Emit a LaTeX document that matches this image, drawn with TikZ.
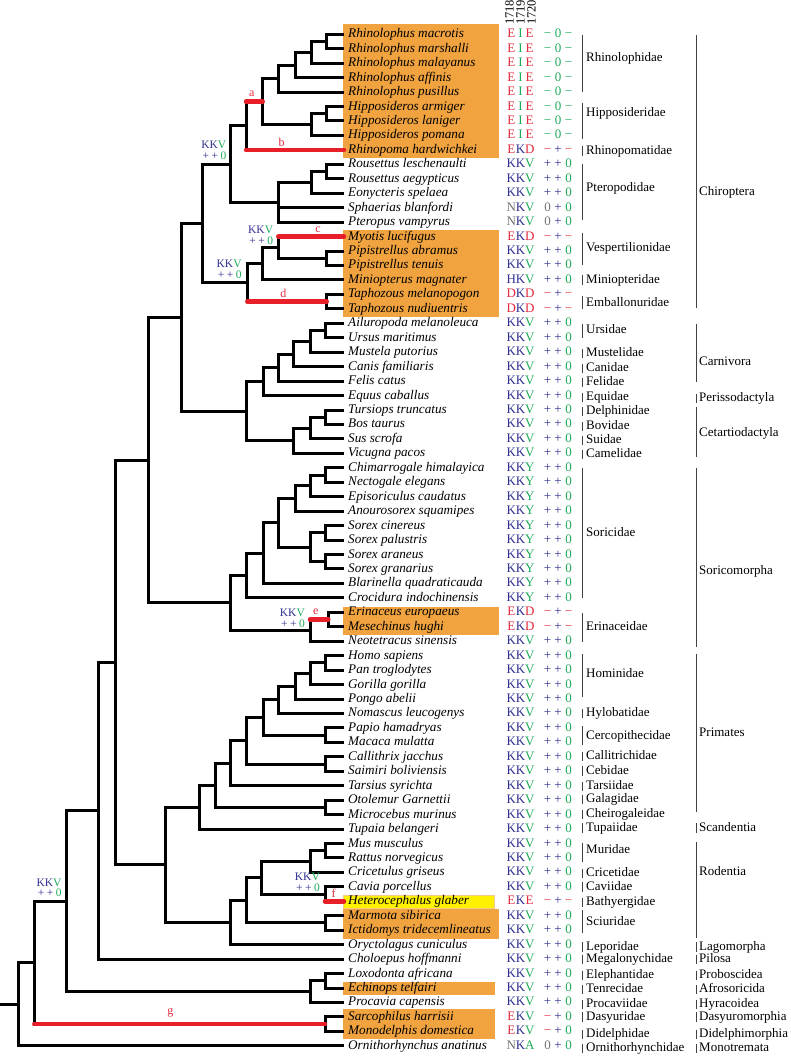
\documentclass[tikz,border=0pt]{standalone}
\usepackage{fontspec}
\setmainfont{Liberation Serif}
\usetikzlibrary{calc}
\definecolor{cred}{RGB}{228,42,62}
\definecolor{cblue}{RGB}{48,48,145}
\definecolor{cgreen}{RGB}{30,170,90}
\definecolor{cgray}{RGB}{115,115,115}
\definecolor{orbox}{RGB}{241,163,64}
\definecolor{yebox}{RGB}{255,242,0}
\definecolor{redbar}{RGB}{232,30,40}
\newcommand\cRe[1]{\textcolor{cred}{#1}}
\newcommand\cBl[1]{\textcolor{cblue}{#1}}
\newcommand\cGr[1]{\textcolor{cgreen}{#1}}
\newcommand\cGy[1]{\textcolor{cgray}{#1}}
\tikzset{
 br/.style={line width=3pt, line join=miter, black},
 rb/.style={line width=4.5pt, line cap=round, redbar},
 spn/.style={anchor=west, inner sep=0pt, text height=9pt, text depth=2pt, font=\fontsize{13.2}{14}\selectfont\itshape},
 cd/.style={anchor=center, inner sep=0pt, text height=9pt, text depth=2pt, font=\fontsize{13}{14}\selectfont},
 lab/.style={anchor=west, inner sep=0pt, text height=9pt, text depth=2pt, font=\fontsize{13}{14}\selectfont},
 brk/.style={line width=0.8pt, black!75},
 nl/.style={anchor=south east, align=right, inner sep=0pt, font=\fontsize{11.5}{10.5}\selectfont},
 rl/.style={inner sep=0pt, text=cred, font=\fontsize{12}{12}\selectfont},
 hd/.style={rotate=90, anchor=west, inner sep=0pt, font=\fontsize{12.5}{12.5}\selectfont},
}
% codes
\newcommand\typ[7]{%
 \node[cd] (ca#1) at (l#1 -| X1) {#2};
 \node[cd] (cb#1) at (l#1 -| X2) {#3};
 \node[cd] (cc#1) at (l#1 -| X3) {#4};
 \node[cd] (sa#1) at (l#1 -| Y1) {#5};
 \node[cd] (sb#1) at (l#1 -| Y2) {#6};
 \node[cd] (sc#1) at (l#1 -| Y3) {#7};}
\newcommand\codeEIE[1]{\typ{#1}{\cRe{E}}{\cGr{I}}{\cRe{E}}{\cGr{−}}{\cGr{0}}{\cGr{−}}}
\newcommand\codeEKD[1]{\typ{#1}{\cRe{E}}{\cBl{K}}{\cRe{D}}{\cRe{−}}{\cBl{+}}{\cRe{−}}}
\newcommand\codeKKV[1]{\typ{#1}{\cBl{K}}{\cBl{K}}{\cGr{V}}{\cBl{+}}{\cBl{+}}{\cGr{0}}}
\newcommand\codeNKV[1]{\typ{#1}{\cGy{N}}{\cBl{K}}{\cGr{V}}{\cGy{0}}{\cBl{+}}{\cGr{0}}}
\newcommand\codeHKV[1]{\typ{#1}{\cBl{H}}{\cBl{K}}{\cGr{V}}{\cBl{+}}{\cBl{+}}{\cGr{0}}}
\newcommand\codeDKD[1]{\typ{#1}{\cRe{D}}{\cBl{K}}{\cRe{D}}{\cRe{−}}{\cBl{+}}{\cRe{−}}}
\newcommand\codeKKY[1]{\typ{#1}{\cBl{K}}{\cBl{K}}{\cGr{Y}}{\cBl{+}}{\cBl{+}}{\cGr{0}}}
\newcommand\codeEKE[1]{\typ{#1}{\cRe{E}}{\cBl{K}}{\cRe{E}}{\cRe{−}}{\cBl{+}}{\cRe{−}}}
\newcommand\codeEKV[1]{\typ{#1}{\cRe{E}}{\cBl{K}}{\cGr{V}}{\cRe{−}}{\cBl{+}}{\cGr{0}}}
\newcommand\codeNKA[1]{\typ{#1}{\cGy{N}}{\cBl{K}}{\cGr{A}}{\cGy{0}}{\cBl{+}}{\cGr{0}}}
\newcommand\rw[3]{%
 \coordinate (l#1) at (344,{34.3+(#1-1)*14.45});
 \node[spn] (s#1) at ($(l#1)+(4,0)$) {#2};
 \csname code#3\endcsname{#1}}
\newcommand\inode[4]{%
 \path let \p1=(#3), \p2=(#4) in ({#2pt},{0.5*(\y1+\y2)}) coordinate (#1);
 \draw[br] (#3) -| (#1) |- (#4);}
\newcommand\famlab[5]{%
 \node[lab] (#1) at (586,#3) {#2};
 \draw[brk] (582.7,#4) -- (582.7,#5);}
\newcommand\famshort[3]{%
 \node[lab] (#1) at (586,#3) {#2};
 \draw[brk] (582.7,{#3-4.5}) -- (582.7,{#3+5});}
\newcommand\ordlab[5]{%
 \node[lab] (#1) at (699,#3) {#2};
 \draw[brk] (696,#4) -- (696,#5);}
\newcommand\ordshort[3]{%
 \node[lab] (#1) at (699,#3) {#2};
 \draw[brk] (696,{#3-4.5}) -- (696,{#3+5});}
\newcommand\nlab[1]{\cBl{KK}\cGr{V}\\\cBl{+\kern2.5pt+}\kern2.5pt\cGr{0}}
\begin{document}
\begin{tikzpicture}[x=1pt,y=-1pt]
\useasboundingbox (0,0) rectangle (790,1056);
\fill[white] (0,0) rectangle (790,1056);
\coordinate (X1) at (511.3,0);
\coordinate (X2) at (520.5,0);
\coordinate (X3) at (529.7,0);
\coordinate (Y1) at (547.5,0);
\coordinate (Y2) at (558,0);
\coordinate (Y3) at (568.5,0);
\coordinate (o) at (0,0);
% header
\node[hd] (h1) at (509.5,25) {1718};
\node[hd] (h2) at (520.5,25) {1719};
\node[hd] (h3) at (531.5,25) {1720};
% highlight boxes
\fill[orbox] (343,24) rectangle (499,158.3);
\fill[orbox] (343,230.5) rectangle (499,316.7);
\fill[orbox] (343,607) rectangle (499,635);
\filldraw[fill=yebox, draw=orbox!60, line width=0.6pt] (343,895) rectangle (494,908);
\fill[orbox] (343,909.3) rectangle (499,938.5);
\fill[orbox] (343,981.7) rectangle (495,995);
\fill[orbox] (343,1009.3) rectangle (495,1039);
% rows
\rw{1}{Rhinolophus macrotis}{EIE}
\rw{2}{Rhinolophus marshalli}{EIE}
\rw{3}{Rhinolophus malayanus}{EIE}
\rw{4}{Rhinolophus affinis}{EIE}
\rw{5}{Rhinolophus pusillus}{EIE}
\rw{6}{Hipposideros armiger}{EIE}
\rw{7}{Hipposideros laniger}{EIE}
\rw{8}{Hipposideros pomana}{EIE}
\rw{9}{Rhinopoma hardwichkei}{EKD}
\rw{10}{Rousettus leschenaulti}{KKV}
\rw{11}{Rousettus aegypticus}{KKV}
\rw{12}{Eonycteris spelaea}{KKV}
\rw{13}{Sphaerias blanfordi}{NKV}
\rw{14}{Pteropus vampyrus}{NKV}
\rw{15}{Myotis lucifugus}{EKD}
\rw{16}{Pipistrellus abramus}{KKV}
\rw{17}{Pipistrellus tenuis}{KKV}
\rw{18}{Miniopterus magnater}{HKV}
\rw{19}{Taphozous melanopogon}{DKD}
\rw{20}{Taphozous nudiuentris}{DKD}
\rw{21}{Ailuropoda melanoleuca}{KKV}
\rw{22}{Ursus maritimus}{KKV}
\rw{23}{Mustela putorius}{KKV}
\rw{24}{Canis familiaris}{KKV}
\rw{25}{Felis catus}{KKV}
\rw{26}{Equus caballus}{KKV}
\rw{27}{Tursiops truncatus}{KKV}
\rw{28}{Bos taurus}{KKV}
\rw{29}{Sus scrofa}{KKV}
\rw{30}{Vicugna pacos}{KKV}
\rw{31}{Chimarrogale himalayica}{KKY}
\rw{32}{Nectogale elegans}{KKY}
\rw{33}{Episoriculus caudatus}{KKY}
\rw{34}{Anourosorex squamipes}{KKY}
\rw{35}{Sorex cinereus}{KKY}
\rw{36}{Sorex palustris}{KKY}
\rw{37}{Sorex araneus}{KKY}
\rw{38}{Sorex granarius}{KKY}
\rw{39}{Blarinella quadraticauda}{KKY}
\rw{40}{Crocidura indochinensis}{KKY}
\rw{41}{Erinaceus europaeus}{EKD}
\rw{42}{Mesechinus hughi}{EKD}
\rw{43}{Neotetracus sinensis}{KKV}
\rw{44}{Homo sapiens}{KKV}
\rw{45}{Pan troglodytes}{KKV}
\rw{46}{Gorilla gorilla}{KKV}
\rw{47}{Pongo abelii}{KKV}
\rw{48}{Nomascus leucogenys}{KKV}
\rw{49}{Papio hamadryas}{KKV}
\rw{50}{Macaca mulatta}{KKV}
\rw{51}{Callithrix jacchus}{KKV}
\rw{52}{Saimiri boliviensis}{KKV}
\rw{53}{Tarsius syrichta}{KKV}
\rw{54}{Otolemur Garnettii}{KKV}
\rw{55}{Microcebus murinus}{KKV}
\rw{56}{Tupaia belangeri}{KKV}
\rw{57}{Mus musculus}{KKV}
\rw{58}{Rattus norvegicus}{KKV}
\rw{59}{Cricetulus griseus}{KKV}
\rw{60}{Cavia porcellus}{KKV}
\rw{61}{Heterocephalus glaber}{EKE}
\rw{62}{Marmota sibirica}{KKV}
\rw{63}{Ictidomys tridecemlineatus}{KKV}
\rw{64}{Oryctolagus cuniculus}{KKV}
\rw{65}{Choloepus hoffmanni}{KKV}
\rw{66}{Loxodonta africana}{KKV}
\rw{67}{Echinops telfairi}{KKV}
\rw{68}{Procavia capensis}{KKV}
\rw{69}{Sarcophilus harrisii}{EKV}
\rw{70}{Monodelphis domestica}{EKV}
\rw{71}{Ornithorhynchus anatinus}{NKA}
% tree
\inode{n1}{326.7}{l1}{l2}
\inode{n2}{311.7}{n1}{l3}
\inode{n3}{295}{n2}{l4}
\inode{n4}{278.3}{n3}{l5}
\inode{n5}{326.7}{l6}{l7}
\inode{n6}{311.7}{n5}{l8}
\inode{n7}{262.7}{n4}{n6}
\inode{n8}{246}{n7}{l9}
\inode{n9}{326.7}{l10}{l11}
\inode{n10}{311.7}{n9}{l12}
\inode{n11}{278.3}{n10}{l14}
\draw[br] (l13) -- (l13 -| n11);
\inode{n12}{230}{n8}{n11}
\inode{n13}{326.7}{l16}{l17}
\inode{n14}{278.3}{l15}{n13}
\inode{n15}{262.7}{n14}{l18}
\inode{n16}{326.7}{l19}{l20}
\inode{n17}{247.3}{n15}{n16}
\inode{n18}{202.7}{n12}{n17}
\inode{n19}{325}{l21}{l22}
\inode{n20}{310}{n19}{l23}
\inode{n21}{293.3}{n20}{l24}
\inode{n22}{278.3}{n21}{l25}
\inode{n23}{263.3}{n22}{l26}
\inode{n24}{325}{l27}{l28}
\inode{n25}{310}{n24}{l29}
\inode{n26}{293.3}{n25}{l30}
\inode{n27}{246.7}{n23}{n26}
\inode{n28}{181.7}{n18}{n27}
\inode{n29}{325}{l31}{l32}
\inode{n30}{310}{n29}{l33}
\inode{n31}{295}{n30}{l34}
\inode{n32}{325}{l35}{l36}
\inode{n33}{325}{l37}{l38}
\inode{n34}{310}{n32}{n33}
\inode{n35}{278.3}{n31}{n34}
\inode{n36}{263.3}{n35}{l39}
\inode{n37}{246.7}{n36}{l40}
\inode{n38}{328.3}{l41}{l42}
\inode{n39}{310}{n38}{l43}
\inode{n40}{230}{n37}{n39}
\inode{n41}{148.3}{n28}{n40}
\inode{n42}{325}{l44}{l45}
\inode{n43}{310}{n42}{l46}
\inode{n44}{295}{n43}{l47}
\inode{n45}{278.3}{n44}{l48}
\inode{n46}{325}{l49}{l50}
\inode{n47}{263.3}{n45}{n46}
\inode{n48}{325}{l51}{l52}
\inode{n49}{246.7}{n47}{n48}
\inode{n50}{230.7}{n49}{l53}
\inode{n51}{325}{l54}{l55}
\inode{n52}{215}{n50}{n51}
\inode{n53}{199.3}{n52}{l56}
\inode{n54}{325}{l57}{l58}
\inode{n55}{310}{n54}{l59}
\inode{n56}{325}{l60}{l61}
\inode{n57}{261.7}{n55}{n56}
\inode{n58}{325}{l62}{l63}
\inode{n59}{246.7}{n57}{n58}
\inode{n60}{230}{n59}{l64}
\inode{n61}{165.7}{n53}{n60}
\inode{n62}{115}{n41}{n61}
\inode{n63}{98.3}{n62}{l65}
\inode{n64}{325}{l66}{l67}
\inode{n65}{310}{n64}{l68}
\inode{n66}{66.7}{n63}{n65}
\inode{n67}{325}{l69}{l70}
\inode{n68}{34.3}{n66}{n67}
\inode{n69}{18.3}{n68}{l71}
\draw[br] (n69) -- (n69 -| o);
% red branches
\draw[rb] (n7) -- (n7 -| n8);
\draw[rb] (l9) -- (l9 -| n8);
\draw[rb] (l15) -- (l15 -| n14);
\draw[rb] (n16) -- (n16 -| n17);
\draw[rb] (n38) -- (n38 -| n39);
\draw[rb] (l61) -- (l61 -| n56);
\draw[rb] (n67) -- (n67 -| n68);
\node[rl] (ra) at (251.7,93.3) {a};
\node[rl] (rb) at (281.7,142) {b};
\node[rl] (rc) at (318,229.7) {c};
\node[rl] (rd) at (283.3,293.3) {d};
\node[rl] (re) at (315.8,611.7) {e};
\node[rl] (rf) at (333.5,893.5) {f};
\node[rl] (rg) at (170.3,1013) {g};
% node state labels
\node[nl] (k12) at ($(n12)+(-3.5,-4.5)$) {\nlab{}};
\node[nl] (k14) at ($(n14)+(-5,-3)$) {\nlab{}};
\node[nl] (k17) at ($(n17)+(-5.5,-4)$) {\nlab{}};
\node[nl] (k39) at ($(n39)+(-5,-3)$) {\nlab{}};
\node[nl] (k56) at ($(n56)+(-5,-2.5)$) {\nlab{}};
\node[nl] (k66) at ($(n66)+(-5,-4)$) {\nlab{}};
% families
\famlab{f1}{Rhinolophidae}{58}{35}{91.7}
\famlab{f2}{Hipposideridae}{113.5}{103.3}{139.3}
\famshort{f3}{Rhinopomatidae}{151}
\famlab{f4}{Pteropodidae}{188.3}{164.3}{220}
\famlab{f5}{Vespertilionidae}{247.7}{232.7}{265}
\famshort{f6}{Miniopteridae}{280}
\famlab{f7}{Emballonuridae}{303.3}{296}{309.3}
\famlab{f8}{Ursidae}{330}{324}{338}
\famshort{f9}{Mustelidae}{353.3}
\famshort{f10}{Canidae}{368.3}
\famshort{f11}{Felidae}{382.3}
\famshort{f12}{Equidae}{397.3}
\famshort{f13}{Delphinidae}{411}
\famshort{f14}{Bovidae}{426}
\famshort{f15}{Suidae}{440}
\famshort{f16}{Camelidae}{454}
\famlab{f17}{Soricidae}{532.7}{468.3}{598.3}
\famlab{f18}{Erinaceidae}{626.7}{613.3}{641.7}
\famlab{f19}{Hominidae}{674.3}{654}{696.7}
\famshort{f20}{Hylobatidae}{713.3}
\famlab{f21}{Cercopithecidae}{736}{726}{745}
\famshort{f22}{Callitrichidae}{756}
\famshort{f23}{Cebidae}{770.7}
\famshort{f24}{Tarsiidae}{786}
\famshort{f25}{Galagidae}{799.3}
\famshort{f26}{Cheirogaleidae}{814}
\famshort{f27}{Tupaiidae}{827.7}
\famlab{f28}{Muridae}{850}{843}{861.7}
\famshort{f29}{Cricetidae}{873.3}
\famshort{f30}{Caviidae}{886.7}
\famshort{f31}{Bathyergidae}{902.3}
\famlab{f32}{Sciuridae}{922.3}{910}{933.3}
\famshort{f33}{Leporidae}{946.7}
\famshort{f34}{Megalonychidae}{959}
\famshort{f35}{Elephantidae}{975}
\famshort{f36}{Tenrecidae}{989.3}
\famshort{f37}{Procaviidae}{1004}
\famshort{f38}{Dasyuridae}{1016.7}
\famshort{f39}{Didelphidae}{1034}
\famshort{f40}{Ornithorhynchidae}{1048.3}
% orders
\ordlab{o1}{Chiroptera}{192.3}{35}{308.3}
\ordlab{o2}{Carnivora}{362.3}{324}{381.7}
\ordshort{o3}{Perissodactyla}{398.3}
\ordlab{o4}{Cetartiodactyla}{432.7}{406.7}{456.7}
\ordlab{o5}{Soricomorpha}{571}{468.3}{646.7}
\ordlab{o6}{Primates}{733.3}{654}{811.7}
\ordshort{o7}{Scandentia}{827.7}
\ordlab{o8}{Rodentia}{871.7}{842.3}{938.3}
\ordshort{o9}{Lagomorpha}{946.7}
\ordshort{o10}{Pilosa}{959}
\ordshort{o11}{Proboscidea}{975}
\ordshort{o12}{Afrosoricida}{989.3}
\ordshort{o13}{Hyracoidea}{1004}
\ordshort{o14}{Dasyuromorphia}{1016.7}
\ordshort{o15}{Didelphimorphia}{1034}
\ordshort{o16}{Monotremata}{1048.3}
\end{tikzpicture}
\end{document}
